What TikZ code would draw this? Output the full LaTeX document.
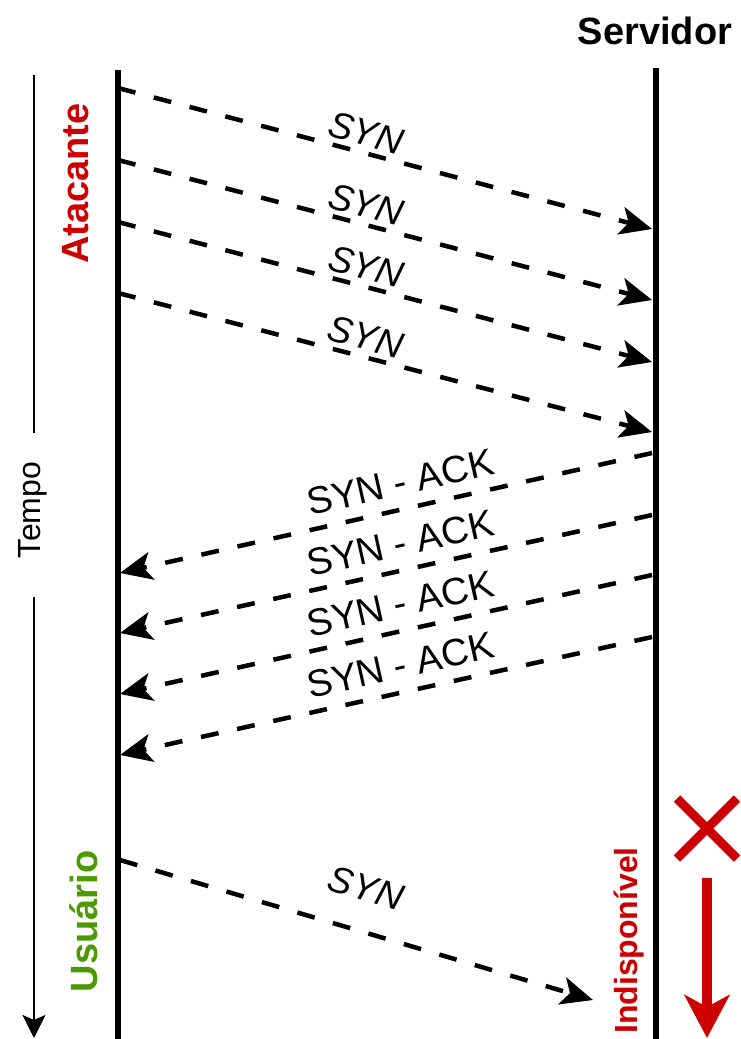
\documentclass[tikz,border=0pt]{standalone}
\usepackage{fontspec}
\setmainfont{Liberation Sans}
\usetikzlibrary{arrows.meta}
\definecolor{alertred}{HTML}{CC0000}
\definecolor{usergreen}{HTML}{4D9900}

\begin{document}
\begin{tikzpicture}[x=1pt, y=-1pt,
        life/.style={line width=5.5pt},
        msg/.style={line width=4.5pt, dash pattern=on 18pt off 19pt,
          -{Stealth[length=32pt, width=28pt, inset=8pt]}},
        lbl/.style={sloped, inner sep=0pt, font=\fontsize{38}{40}\selectfont},
        syn/.style={lbl, font=\fontsize{37}{40}\selectfont\itshape}]
      \tikzstyle{actor} = [font=\fontsize{38}{40}\selectfont\bfseries, inner sep=0pt]
      \tikzstyle{vert} = [rotate=90, anchor=base, inner sep=0pt]
      \useasboundingbox (0,0) rectangle (741,1039);
      \node (SRV) [actor, anchor=base] at (655,44) {Servidor};
      \node (ATK) [actor, vert, color=alertred] at (88,183.5) {Atacante};
      \node (USR) [actor, vert, color=usergreen] at (97,921.5) {Usuário};
      \node (OFF) [vert, color=alertred, font=\fontsize{32}{34}\selectfont\bfseries] at (637,940.5) {Indisponível};
      \node (TIME) [vert, font=\fontsize{32}{34}\selectfont] at (40,510) {Tempo};
      \coordinate (Ltop) at (118,70);
      \coordinate (Lbot) at (118,1039);
      \coordinate (Rtop) at (656,68);
      \coordinate (Rbot) at (656,1039);
      \draw[life] (Ltop) -- (Lbot);
      \draw[life] (Rtop) -- (Rbot);
      \coordinate (T0) at (34,75);
      \coordinate (T1) at (34,433);
      \coordinate (T2) at (34,597);
      \coordinate (T3) at (34,1038);
      \draw[line width=2.8pt] (T0) -- (T1);
      \draw[line width=2.8pt, -{Stealth[length=23pt, width=23pt, inset=5pt]}] (T2) -- (T3);
      \coordinate (a1) at (118,88);  \coordinate (s1) at (652,229);
      \coordinate (a2) at (118,160); \coordinate (s2) at (652,300);
      \coordinate (a3) at (118,222); \coordinate (s3) at (652,362);
      \coordinate (a4) at (118,293); \coordinate (s4) at (652,432);
      \draw[msg] (a1) -- node[syn, pos=0.455, yshift=20pt] (syn1) {SYN} (s1);
      \draw[msg] (a2) -- node[syn, pos=0.455, yshift=20pt] (syn2) {SYN} (s2);
      \draw[msg] (a3) -- node[syn, pos=0.455, yshift=20pt] (syn3) {SYN} (s3);
      \draw[msg] (a4) -- node[syn, pos=0.455, yshift=20pt] (syn4) {SYN} (s4);
      \coordinate (r1) at (652,453); \coordinate (b1) at (120,573);
      \coordinate (r2) at (652,515); \coordinate (b2) at (120,633);
      \coordinate (r3) at (652,575); \coordinate (b3) at (120,694);
      \coordinate (r4) at (652,637); \coordinate (b4) at (120,755);
      \draw[msg] (r1) -- node[lbl, pos=0.462, yshift=27pt] (ack1) {SYN - ACK} (b1);
      \draw[msg] (r2) -- node[lbl, pos=0.462, yshift=27pt] (ack2) {SYN - ACK} (b2);
      \draw[msg] (r3) -- node[lbl, pos=0.462, yshift=27pt] (ack3) {SYN - ACK} (b3);
      \draw[msg] (r4) -- node[lbl, pos=0.462, yshift=27pt] (ack4) {SYN - ACK} (b4);
      \coordinate (u1) at (120,860); \coordinate (u2) at (593,1000);
      \draw[msg] (u1) -- node[syn, pos=0.494, yshift=43pt] (syn5) {SYN} (u2);
      \coordinate (X) at (707,828.5);
      \draw[alertred, line width=9pt, shift={(X)}] (-30,-30) -- (30,30) (-30,30) -- (30,-30);
      \coordinate (d0) at (707,878);
      \coordinate (d1) at (707,1038);
      \draw[alertred, line width=10pt, -{Stealth[length=43pt, width=45pt, inset=12pt]}] (d0) -- (d1);
    \end{tikzpicture}
\end{document}
